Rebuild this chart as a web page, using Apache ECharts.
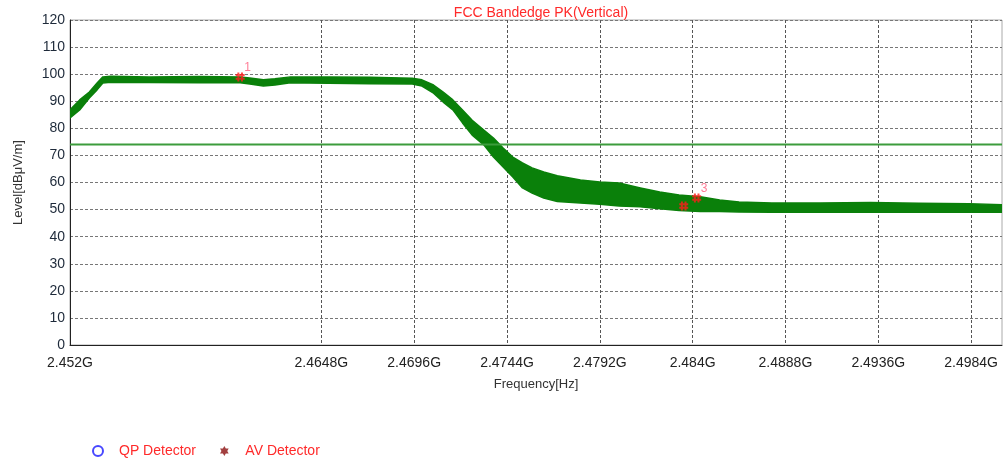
<!DOCTYPE html>
<html>
<head>
<meta charset="utf-8">
<script src="https://cdn.jsdelivr.net/npm/echarts@6/dist/echarts.min.js"></script>
<style>
html,body{margin:0;padding:0;background:#fff;}
#c{width:1005px;height:461px;}
</style>
</head>
<body>
<div id="c"></div>
<script>
// ---- data ----
const titleText = 'FCC Bandedge PK(Vertical)';
const xName = 'Frequency[Hz]';
const yName = 'Level[dB\u03bcV/m]';
const xMin = 2.4518, xMax = 2.5;
const tickValues = [2.4518, 2.4648, 2.4696, 2.4744, 2.4792, 2.484, 2.4888, 2.4936, 2.4984];
const tickLabels = ['2.452G', '2.4648G', '2.4696G', '2.4744G', '2.4792G', '2.484G', '2.4888G', '2.4936G', '2.4984G'];
// trace envelope (GHz, dBuV/m)
const freqs = [2.4518, 2.4523, 2.4528, 2.4532, 2.4535, 2.4539, 2.4559, 2.4585, 2.4606, 2.4611,
  2.4618, 2.4624, 2.4632, 2.4652, 2.4673, 2.4695, 2.4700, 2.4706, 2.4711, 2.4716,
  2.4721, 2.4726, 2.4732, 2.4737, 2.4742, 2.4747, 2.4752, 2.4757, 2.4763, 2.4770,
  2.4782, 2.4792, 2.4802, 2.4813, 2.4823, 2.4833, 2.4844, 2.4854, 2.4864, 2.4881,
  2.4906, 2.4932, 2.4957, 2.4983, 2.5000];
const upper = [86.8, 90.5, 93.4, 96.7, 99.0, 99.2, 99.0, 99.1, 99.0, 98.6,
  97.9, 98.3, 99.0, 99.0, 98.9, 98.5, 97.9, 96.0, 93.4, 90.5,
  86.8, 83.0, 79.4, 76.4, 72.7, 69.4, 67.2, 65.4, 63.9, 62.5,
  60.9, 60.2, 59.8, 58.0, 56.5, 55.4, 54.7, 53.5, 52.8, 52.4,
  52.4, 52.6, 52.3, 52.2, 51.8];
const lower = [83.8, 86.8, 91.2, 94.2, 96.7, 97.0, 96.9, 96.8, 96.8, 96.4,
  95.6, 96.0, 96.8, 96.6, 96.5, 96.4, 95.6, 93.0, 89.7, 86.8,
  82.0, 77.5, 73.9, 69.4, 65.7, 62.0, 58.0, 56.1, 54.3, 53.0,
  52.4, 52.0, 51.3, 51.0, 50.3, 49.7, 49.3, 49.3, 49.1, 49.0,
  49.0, 49.0, 49.0, 49.0, 49.0];
const limitLevel = 74;
const markerFreqs = [2.4606, 2.48354, 2.48421];
const markerLevels = [99.0, 51.3, 54.3];
const markerNames = ['1', '', '3'];
const legendNames = ['QP Detector', 'AV Detector'];

// ---- chart ----
const font = '"Liberation Sans", Arial, sans-serif';
const hashPath = 'path://M3,0L3,10M7,0L7,10M0,3L10,3M0,7L10,7';
const starPath = 'path://M5,0L6.45,2.5L9.33,2.5L7.9,5L9.33,7.5L6.45,7.5L5,10L3.55,7.5L0.67,7.5L2.1,5L0.67,2.5L3.55,2.5Z';

function labelFor(v) {
  let best = 0;
  for (let i = 1; i < tickValues.length; i++) {
    if (Math.abs(tickValues[i] - v) < Math.abs(tickValues[best] - v)) best = i;
  }
  return tickLabels[best];
}

function renderBand(params, api) {
  const pts = [];
  for (let i = 0; i < freqs.length; i++) pts.push(api.coord([freqs[i], upper[i]]));
  for (let i = freqs.length - 1; i >= 0; i--) pts.push(api.coord([freqs[i], lower[i]]));
  return {
    type: 'polygon',
    shape: {points: pts},
    style: {fill: '#0a800a', stroke: '#0a800a', lineWidth: 1.5, lineJoin: 'round'}
  };
}

const chart = echarts.init(document.getElementById('c'), null, {renderer: 'canvas'});
chart.setOption({
  animation: false,
  backgroundColor: '#fff',
  title: {
    text: titleText,
    left: 536, top: 1, textAlign: 'center',
    textStyle: {color: '#ff2a2a', fontSize: 14, fontWeight: 'normal', fontFamily: font}
  },
  legend: {
    left: 87, top: 439,
    itemWidth: 20, itemHeight: 10, itemGap: 24,
    textStyle: {color: '#ff2a2a', fontSize: 14, fontFamily: font, padding: [0, 0, 0, 6]},
    data: [
      {name: legendNames[0], icon: 'circle', itemStyle: {color: '#fff', borderColor: '#1a1aff', borderWidth: 2}},
      {name: legendNames[1], icon: starPath, itemStyle: {color: '#8b1010', borderWidth: 0}}
    ]
  },
  grid: {left: 70, right: 3, top: 20, bottom: 116, show: true, borderColor: '#aaa', borderWidth: 1},
  xAxis: {
    type: 'value', min: xMin, max: xMax,
    name: xName, nameLocation: 'middle', nameGap: 33,
    nameTextStyle: {color: '#333', fontSize: 13, fontFamily: font},
    axisLine: {show: true, lineStyle: {color: '#222', width: 1}},
    axisTick: {show: false, customValues: tickValues},
    axisLabel: {customValues: tickValues, formatter: v => labelFor(v), color: '#222', fontSize: 14, fontFamily: font, margin: 11},
    splitLine: {show: true, lineStyle: {color: '#555', type: [3, 2], width: 1}}
  },
  yAxis: {
    type: 'value', min: 0, max: 120, interval: 10,
    name: yName, nameLocation: 'middle', nameGap: 45,
    nameTextStyle: {color: '#333', fontSize: 13, fontFamily: font},
    axisLine: {show: true, lineStyle: {color: '#222', width: 1}},
    axisTick: {show: false},
    axisLabel: {color: '#1e2a3a', fontSize: 14, fontFamily: font, margin: 5},
    splitLine: {show: true, lineStyle: {color: '#777', type: [3, 2], width: 1}}
  },
  series: [
    {
      name: 'trace', type: 'custom', renderItem: renderBand,
      data: [[xMin, 0]], silent: true, z: 3, clip: true
    },
    {
      name: 'limit', type: 'line', data: [[xMin, limitLevel], [xMax, limitLevel]],
      symbol: 'none', lineStyle: {color: '#3c9c3c', width: 2}, z: 4
    },
    {
      name: 'markers', type: 'scatter', z: 6,
      data: markerFreqs.map((f, i) => ({name: markerNames[i], value: [f, markerLevels[i]]})),
      symbol: hashPath, symbolSize: 9,
      itemStyle: {color: 'none', borderColor: '#ff1a1a', borderWidth: 2},
      label: {show: true, position: [11, -8], formatter: p => p.name, color: '#ff5a7a', fontSize: 12, fontFamily: font}
    },
    {name: legendNames[0], type: 'scatter', data: [], itemStyle: {color: '#1a1aff'}},
    {name: legendNames[1], type: 'scatter', data: [], itemStyle: {color: '#8b1010'}}
  ]
});
</script>
</body>
</html>
